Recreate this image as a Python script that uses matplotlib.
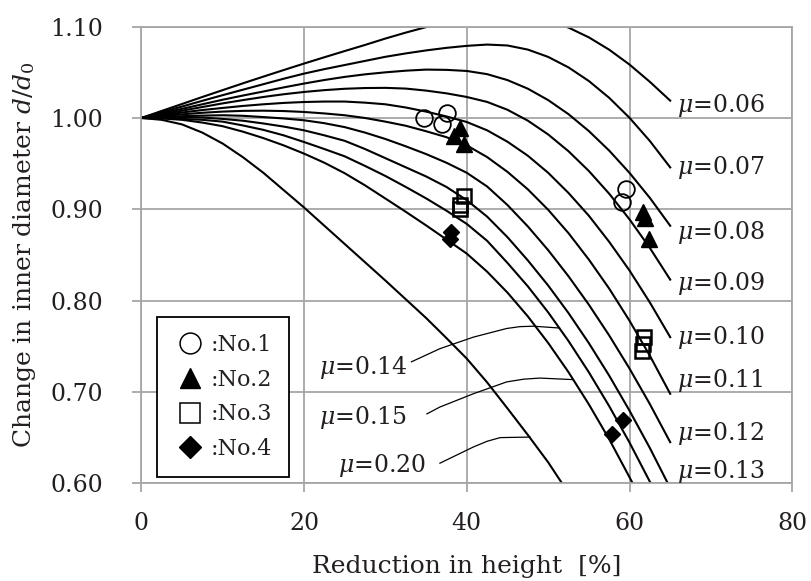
import matplotlib.pyplot as plt
from matplotlib.lines import Line2D

plt.rcParams['font.family'] = 'DejaVu Serif'
plt.rcParams['mathtext.fontset'] = 'dejavuserif'

TEXT = '#231f20'
GRID = '#a6a6a6'

# calibration curves, d/d0 against reduction in height [%]
grid_x = [0, 2.5, 5, 7.5, 10, 12.5, 15, 17.5, 20, 22.5, 25, 27.5, 30, 32.5,
          35, 37.5, 40, 42.5, 45, 47.5, 50, 52.5, 55, 57.5, 60, 62.5, 65]
mu_006 = [1.000, 1.0077, 1.0153, 1.023, 1.0305, 1.038, 1.0453, 1.0525, 1.0596, 1.0665,
          1.0733, 1.080, 1.087, 1.0935, 1.0995, 1.105, 1.110, 1.113, 1.1135, 1.111,
          1.1065, 1.099, 1.0883, 1.0748, 1.0585, 1.0396, 1.019]
mu_007 = [1.000, 1.0063, 1.0125, 1.0188, 1.025, 1.031, 1.037, 1.043, 1.0486, 1.0535,
          1.058, 1.0625, 1.067, 1.0707, 1.074, 1.0768, 1.079, 1.0804, 1.0794, 1.0749,
          1.0669, 1.0554, 1.0405, 1.0221, 1.0002, 0.9748, 0.9459]
mu_008 = [1.000, 1.0051, 1.010, 1.015, 1.020, 1.0246, 1.029, 1.0335, 1.0377, 1.0416,
          1.045, 1.0478, 1.050, 1.0518, 1.053, 1.0527, 1.0515, 1.048, 1.0415, 1.0321,
          1.0196, 1.0042, 0.9857, 0.9643, 0.9399, 0.9125, 0.882]
mu_009 = [1.000, 1.004, 1.008, 1.012, 1.016, 1.0196, 1.023, 1.026, 1.0285, 1.0305,
          1.032, 1.0328, 1.033, 1.0322, 1.030, 1.027, 1.023, 1.0176, 1.009, 0.9971,
          0.982, 0.9636, 0.942, 0.9171, 0.889, 0.8577, 0.823]
mu_010 = [1.000, 1.0032, 1.006, 1.0087, 1.011, 1.0132, 1.015, 1.0165, 1.0175, 1.018,
          1.018, 1.0168, 1.015, 1.0115, 1.007, 1.0017, 0.9956, 0.9865, 0.974, 0.9587,
          0.940, 0.9179, 0.893, 0.8644, 0.833, 0.798, 0.760]
mu_011 = [1.000, 1.0021, 1.004, 1.0057, 1.007, 1.0078, 1.008, 1.0076, 1.0066, 1.005,
          1.003, 1.000, 0.996, 0.9915, 0.9855, 0.979, 0.970, 0.9572, 0.941, 0.9219,
          0.8995, 0.8739, 0.845, 0.8132, 0.778, 0.7397, 0.698]
mu_012 = [1.000, 1.0012, 1.002, 1.0026, 1.003, 1.0024, 1.001, 0.9995, 0.9975, 0.9943,
          0.990, 0.984, 0.977, 0.969, 0.9605, 0.951, 0.940, 0.925, 0.9047, 0.8813,
          0.8553, 0.8267, 0.7956, 0.7619, 0.7256, 0.6867, 0.645]
mu_013 = [1.000, 1.0007, 1.001, 1.0005, 0.999, 0.997, 0.994, 0.9906, 0.9865, 0.981,
          0.975, 0.966, 0.956, 0.946, 0.936, 0.9245, 0.910, 0.892, 0.8695, 0.8441,
          0.8166, 0.7864, 0.7535, 0.7179, 0.6795, 0.6386, 0.5948]

mu_014_x = [0, 2.5, 5, 7.5, 10, 12.5, 15, 17.5, 20, 22.5, 25, 27.5, 30, 32.5,
            35, 37.5, 40, 42.5, 45, 47.5, 50, 52.5, 55, 57.5, 60, 62.6, 63.2]
mu_014 = [1.000, 0.9998, 0.999, 0.998, 0.996, 0.9918, 0.987, 0.981, 0.9737, 0.966,
          0.958, 0.9475, 0.9365, 0.9245, 0.912, 0.8985, 0.884, 0.8655, 0.8413, 0.8157,
          0.7872, 0.7558, 0.7216, 0.6845, 0.6446, 0.600, 0.588]
mu_015_x = [0, 2.5, 5, 7.5, 10, 12.5, 15, 17.5, 20, 22.5, 25, 27.5, 30, 32.5,
            35, 37.5, 40, 42.5, 45, 47.5, 50, 52.5, 55, 57.5, 60, 61]
mu_015 = [1.000, 0.9995, 0.998, 0.995, 0.991, 0.985, 0.978, 0.970, 0.961, 0.951,
          0.9395, 0.9262, 0.9118, 0.8973, 0.8824, 0.867, 0.8515, 0.8317, 0.8088, 0.7828,
          0.7537, 0.7217, 0.6865, 0.6483, 0.6066, 0.5896]
mu_020_x = [0, 2.5, 5, 7.5, 10, 12.5, 15, 17.5, 20, 22.5, 25, 27.5, 30, 32.5,
            35, 37.5, 40, 42.5, 45, 47.5, 50, 52]
mu_020 = [1.000, 0.998, 0.993, 0.984, 0.972, 0.957, 0.940, 0.921, 0.902, 0.882,
          0.862, 0.842, 0.822, 0.8015, 0.781, 0.759, 0.7365, 0.7105, 0.682, 0.653,
          0.623, 0.596]

# labels written at the right-hand end of the curves
right_labels = ['0.06', '0.07', '0.08', '0.09', '0.10', '0.11', '0.12', '0.13']
right_label_y = [1.014, 0.946, 0.875, 0.819, 0.760, 0.713, 0.654, 0.613]

# labels on the left with leader lines to their curves
left_labels = ['0.14', '0.15', '0.20']
left_label_x = [32.7, 32.7, 34.9]
left_label_y = [0.727, 0.6725, 0.6196]
lead_014_x = [33.2, 36.7, 40.8, 44.9, 46.5, 48.2, 51.4]
lead_014_y = [0.733, 0.7474, 0.760, 0.7695, 0.7715, 0.772, 0.770]
lead_015_x = [35.1, 36.7, 40.8, 44.9, 47.0, 49.0, 53.1]
lead_015_y = [0.676, 0.6835, 0.698, 0.711, 0.714, 0.7152, 0.7135]
lead_020_x = [36.7, 40.8, 42.5, 44.1, 47.75]
lead_020_y = [0.622, 0.6397, 0.646, 0.650, 0.6506]

# measured rings
no1_x = [34.7, 36.9, 37.6, 59.6, 59.1]
no1_y = [1.000, 0.993, 1.0055, 0.9227, 0.908]
no2_x = [39.2, 38.4, 39.6, 61.7, 61.9, 62.4]
no2_y = [0.9895, 0.980, 0.972, 0.897, 0.891, 0.868]
no3_x = [39.6, 39.2, 39.2, 61.8, 61.6, 61.5]
no3_y = [0.915, 0.905, 0.900, 0.760, 0.752, 0.745]
no4_x = [38.1, 38.0, 57.8, 59.2]
no4_y = [0.875, 0.867, 0.654, 0.669]

fig = plt.figure(figsize=(8.11, 5.81), dpi=100)
ax = fig.add_axes([0.1742, 0.1682, 0.8027, 0.7859])

for y in [mu_006, mu_007, mu_008, mu_009, mu_010, mu_011, mu_012, mu_013]:
    ax.plot(grid_x, y, color='black', lw=1.5)
ax.plot(mu_014_x, mu_014, color='black', lw=1.5)
ax.plot(mu_015_x, mu_015, color='black', lw=1.5)
ax.plot(mu_020_x, mu_020, color='black', lw=1.5)

for lx, ly in [(lead_014_x, lead_014_y), (lead_015_x, lead_015_y), (lead_020_x, lead_020_y)]:
    ax.plot(lx, ly, color='black', lw=0.9)

ax.plot(no1_x, no1_y, ls='none', marker='o', ms=12, mfc='none', mec='black', mew=1.3, zorder=4)
ax.plot(no2_x, no2_y, ls='none', marker='^', ms=11.5, mfc='black', mec='black', zorder=4)
ax.plot(no3_x, no3_y, ls='none', marker='s', ms=10.5, mfc='none', mec='black', mew=1.8, zorder=4)
ax.plot(no4_x, no4_y, ls='none', marker='D', ms=8.5, mfc='black', mec='black', zorder=4)

for lab, ly in zip(right_labels, right_label_y):
    ax.text(65.8, ly, r'$\mu$=' + lab, fontsize=17, color=TEXT, ha='left', va='center')
for lab, lx, ly in zip(left_labels, left_label_x, left_label_y):
    ax.text(lx, ly, r'$\mu$=' + lab, fontsize=17, color=TEXT, ha='right', va='center')

ax.set_xlim(0, 80)
ax.set_ylim(0.60, 1.10)
ax.set_xticks([0, 20, 40, 60, 80])
ax.set_yticks([0.60, 0.70, 0.80, 0.90, 1.00, 1.10])
ax.set_yticklabels(['0.60', '0.70', '0.80', '0.90', '1.00', '1.10'])
ax.set_axisbelow(True)
ax.grid(True, color=GRID, lw=1.3)
for s in ax.spines.values():
    s.set_color(GRID)
    s.set_linewidth(1.3)
ax.tick_params(direction='out', length=6.5, width=1.3, color=GRID,
               labelsize=17, labelcolor=TEXT)
ax.tick_params(axis='x', pad=14)
ax.tick_params(axis='y', pad=21)

ax.set_xlabel('Reduction in height  [%]', fontsize=18, color=TEXT)
ax.xaxis.set_label_coords(0.5, -0.1827)
ax.xaxis.label.set_va('center')
ax.set_ylabel(r'Change in inner diameter $d/d_0$', fontsize=18, color=TEXT)
ax.yaxis.set_label_coords(-0.180, 0.5)
ax.yaxis.label.set_va('center')

handles = [
    Line2D([], [], ls='none', marker='o', ms=15, mfc='none', mec='black', mew=1.1),
    Line2D([], [], ls='none', marker='^', ms=15, mfc='black', mec='black'),
    Line2D([], [], ls='none', marker='s', ms=14, mfc='none', mec='black', mew=1.1),
    Line2D([], [], ls='none', marker='D', ms=11, mfc='black', mec='black'),
]
leg = ax.legend(handles, [':No.1', ':No.2', ':No.3', ':No.4'], loc='lower left',
                bbox_to_anchor=(0.0246, 0.0145), borderaxespad=0, fancybox=False,
                edgecolor='black', framealpha=1, fontsize=16, handlelength=1.45,
                handletextpad=0.2, borderpad=0.75, labelspacing=0.57)
leg.get_frame().set_linewidth(1.3)
for t in leg.get_texts():
    t.set_color(TEXT)

fig.savefig('out.png', dpi=100)
